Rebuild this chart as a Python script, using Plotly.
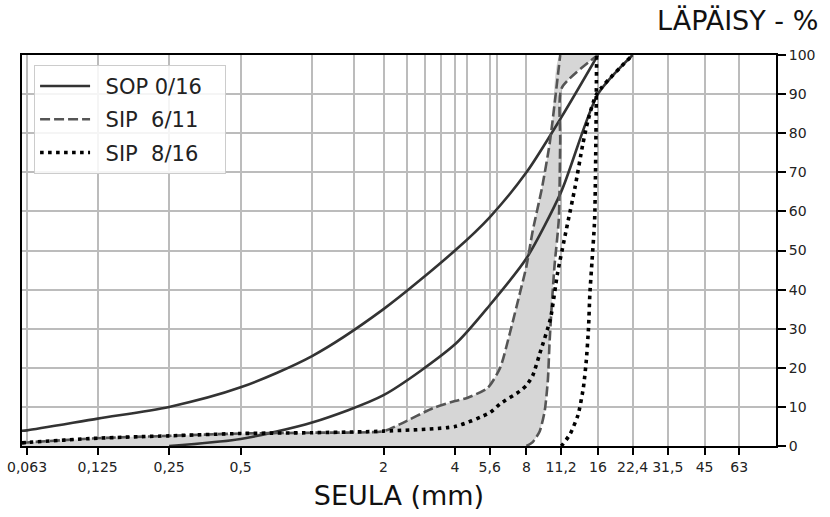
import plotly.graph_objects as go
import math

# ---------------- data ----------------
# SOP 0/16 envelope (solid)
sop_upper_x = [0.06, 0.063, 0.125, 0.25, 0.5, 1, 2, 4, 5.6, 8, 11.2, 16]
sop_upper_y = [3.9, 4, 7, 10, 15, 23, 35, 50, 58.5, 70, 84, 100]
sop_lower_x = [0.25, 0.5, 1, 2, 4, 5.6, 8, 11.2, 16, 22.4]
sop_lower_y = [0, 1.8, 6, 13, 26, 36, 48, 65, 90, 100]

# SIP 6/11 envelope (dashed, filled)
sip611_upper_x = [0.06, 0.063, 0.125, 0.25, 0.5, 1, 2, 2.35, 3.24, 4, 4.5, 5.5,
                  6.2, 6.8, 7.5, 8, 8.5, 9.3, 10.0, 10.3, 11.1]
sip611_upper_y = [0.8, 0.9, 2, 2.6, 3.2, 3.4, 3.8, 5.6, 9.7, 11.5, 12.3, 14.9,
                  20, 28.7, 39, 46, 55, 66, 77, 83, 100]
sip611_lower_x = [8, 8.5, 9.1, 9.55, 9.85, 10.0, 10.2, 10.5, 10.95, 11.1, 11.25, 16]
sip611_lower_y = [0, 1, 3.8, 9, 17, 26, 35, 46, 58, 78, 91.5, 100]

# SIP 8/16 envelope (dotted)
sip816_upper_x = [0.06, 0.063, 0.125, 0.25, 0.5, 1, 2, 4, 5.6, 6.2, 7.5, 8, 8.5,
                  9.1, 10.1, 10.8, 11.8, 12.8, 13.8, 14.5, 15.8, 22.4]
sip816_upper_y = [0.8, 0.9, 2, 2.6, 3.2, 3.4, 3.8, 5, 8.5, 10.8, 14, 15.5, 18,
                  23.6, 32.6, 44, 55.6, 66, 77, 83, 90, 100]
sip816_lower_x = [11.2, 11.4, 12.2, 13.2, 13.9, 14.3, 14.6, 14.8, 15.1, 15.5, 15.7, 15.8]
sip816_lower_y = [0, 0.5, 3, 8, 15, 22, 30, 39, 47, 58, 80, 100]

# axis ticks
tick_vals = [0.063, 0.125, 0.25, 0.5, 2, 4, 5.6, 8, 11.2, 16, 22.4, 31.5, 45, 63]
tick_text = ["0,063", "0,125", "0,25", "0,5", "2", "4", "5,6", "8", "11,2",
             "16", "22,4", "31,5", "45", "63"]
grid_only_vals = [1, 1.5, 2.5, 3, 3.5, 4.5, 6]
y_ticks = list(range(0, 101, 10))

names = ["SOP 0/16", "SIP\u00a0\u00a06/11", "SIP\u00a0\u00a08/16"]
# small leading/trailing spacing to mimic the legend padding
legend_names = ["\u2002" + n + "\u2002\u00a0" for n in names]

# ---------------- styles ----------------
FONT = "DejaVu Sans"
c_sop = "#333333"
c_611 = "#555555"
c_816 = "#000000"
fill_c = "#d6d6d6"

fig = go.Figure()

# fill between SIP 6/11 curves
fig.add_trace(go.Scatter(
    x=sip611_upper_x + [16], y=sip611_upper_y + [100],
    mode="lines", line=dict(width=0, shape="spline", smoothing=0.6),
    showlegend=False, hoverinfo="skip"))
fig.add_trace(go.Scatter(
    x=[0.06] + sip611_lower_x, y=[0] + sip611_lower_y,
    mode="lines", line=dict(width=0, shape="spline", smoothing=0.6),
    fill="tonexty", fillcolor=fill_c,
    showlegend=False, hoverinfo="skip"))

# SOP 0/16
fig.add_trace(go.Scatter(
    x=sop_upper_x, y=sop_upper_y, mode="lines", name=legend_names[0],
    legendgroup="sop",
    line=dict(color=c_sop, width=2.6, shape="spline", smoothing=0.8)))
fig.add_trace(go.Scatter(
    x=sop_lower_x, y=sop_lower_y, mode="lines", name=legend_names[0],
    legendgroup="sop", showlegend=False,
    line=dict(color=c_sop, width=2.6, shape="spline", smoothing=0.7)))

# SIP 6/11
fig.add_trace(go.Scatter(
    x=sip611_upper_x, y=sip611_upper_y, mode="lines", name=legend_names[1],
    legendgroup="611",
    line=dict(color=c_611, width=2.6, dash="10px,4px", shape="spline", smoothing=0.6)))
fig.add_trace(go.Scatter(
    x=sip611_lower_x, y=sip611_lower_y, mode="lines", name=legend_names[1],
    legendgroup="611", showlegend=False,
    line=dict(color=c_611, width=2.6, dash="10px,4px", shape="spline", smoothing=0.6)))

# SIP 8/16
fig.add_trace(go.Scatter(
    x=sip816_upper_x, y=sip816_upper_y, mode="lines", name=legend_names[2],
    legendgroup="816",
    line=dict(color=c_816, width=3.6, dash="3.6px,4.4px", shape="spline", smoothing=0.6)))
fig.add_trace(go.Scatter(
    x=sip816_lower_x, y=sip816_lower_y, mode="lines", name=legend_names[2],
    legendgroup="816", showlegend=False,
    line=dict(color=c_816, width=3.6, dash="3.6px,4.4px", shape="spline", smoothing=0.6)))

grid_c = "#bcbcbc"
fig.update_layout(
    width=830, height=517,
    margin=dict(l=22, r=54, t=55, b=71, autoexpand=False),
    paper_bgcolor="white", plot_bgcolor="white",
    font=dict(family=FONT, size=14, color="#222222"),
    showlegend=True,
    legend=dict(x=0.016, y=0.975, xanchor="left", yanchor="top",
                bgcolor="rgba(255,255,255,0.85)", bordercolor="#cccccc",
                borderwidth=1, font=dict(family=FONT, size=21, color="#222222"),
                itemwidth=50, tracegroupgap=3),
    xaxis=dict(
        type="log", range=[math.log10(0.06), math.log10(90)],
        tickmode="array", tickvals=tick_vals, ticktext=tick_text,
        ticks="outside", ticklen=7, tickwidth=1.6, tickcolor="black",
        showgrid=True, gridcolor=grid_c, gridwidth=1.5,
        minor=dict(tickmode="array", tickvals=grid_only_vals, showgrid=True,
                   gridcolor=grid_c, gridwidth=1.5, ticks=""),
        showline=True, linecolor="black", linewidth=2, mirror=True,
        zeroline=False, automargin=False, ticklabeloverflow="allow",
        title=dict(text="SEULA (mm)", font=dict(family=FONT, size=27, color="#111111"),
                   standoff=12),
        tickfont=dict(family=FONT, size=14, color="#222222"),
    ),
    yaxis=dict(
        side="right", range=[0, 100], tickmode="array", tickvals=y_ticks,
        ticks="outside", ticklen=8, tickwidth=1.6, tickcolor="black",
        showgrid=True, gridcolor=grid_c, gridwidth=1.5,
        showline=True, linecolor="black", linewidth=2, mirror=True,
        zeroline=False, automargin=False,
        tickfont=dict(family=FONT, size=14, color="#222222"),
    ),
    annotations=[dict(
        text="LÄPÄISY - %", xref="paper", yref="paper",
        x=1.058, y=1.0895, xanchor="right", yanchor="middle", showarrow=False,
        font=dict(family=FONT, size=27, color="#111111"))],
)

# remove the browser's default 8px page margin so the figure fills the window
fig.write_html("out.html", config={"displayModeBar": False},
               post_script="document.body.style.margin='0px';")
